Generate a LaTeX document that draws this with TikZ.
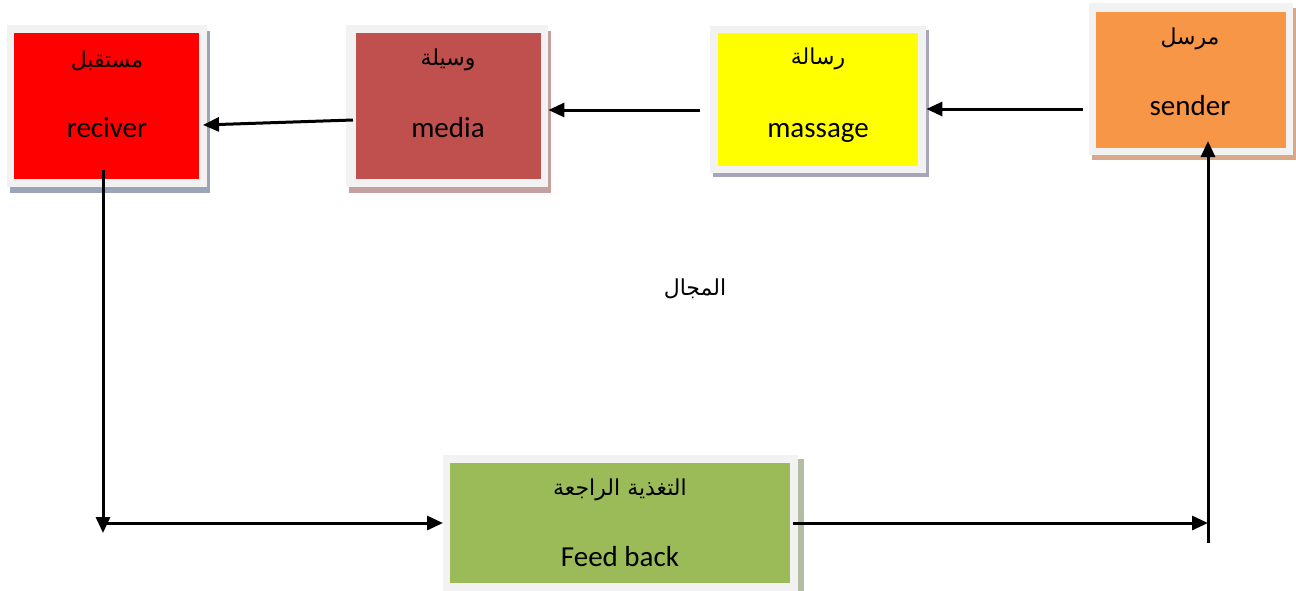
\documentclass[tikz,border=0pt]{standalone}
\usepackage{fontspec}
\setmainfont{Carlito}
\newfontfamily\arabicfont[Script=Arabic]{DejaVu Sans}
\TeXXeTstate=1
\usetikzlibrary{arrows.meta}
\definecolor{framegray}{HTML}{F2F2F2}
\definecolor{cRed}{HTML}{FF0000}
\definecolor{cMedia}{HTML}{C0504D}
\definecolor{cYel}{HTML}{FFFF00}
\definecolor{cOra}{HTML}{F79646}
\definecolor{cGrn}{HTML}{9BBB59}
\definecolor{shRed}{HTML}{9AA5B8}
\definecolor{shMed}{HTML}{C4A0A0}
\definecolor{shYel}{HTML}{A8A4BC}
\definecolor{shOra}{HTML}{D8A888}
\definecolor{shGrn}{HTML}{B4BCA4}
\tikzset{
  blk/.style={draw=none, inner sep=0pt, anchor=north west},
  ar/.style={font=\arabicfont\fontsize{22}{25}\selectfont, inner sep=0pt, anchor=base},
  en/.style={font=\fontsize{29}{32}\selectfont, inner sep=0pt, anchor=base},
  arr/.style={line width=3pt, -{Triangle[length=16pt,width=14pt]}}
}
\begin{document}
\begin{tikzpicture}[x=1pt,y=-1pt]
\useasboundingbox (0,0) rectangle (1296,590);
% receiver
\node[blk, fill=shRed, minimum width=200pt, minimum height=162pt] (rcvS) at (10,31) {};
\node[blk, fill=framegray, minimum width=200pt, minimum height=162pt] (rcvF) at (7,25) {};
\node[blk, fill=cRed, minimum width=185pt, minimum height=146pt] (rcv) at (14,33) {};
\node[ar] (rcvA) at (107,67) {\beginR مستقبل\endR};
\node[en] (rcvE) at (107,137) {reciver};
% media
\node[blk, fill=shMed, minimum width=202pt, minimum height=162pt] (medS) at (349,31) {};
\node[blk, fill=framegray, minimum width=202pt, minimum height=162pt] (medF) at (346,25) {};
\node[blk, fill=cMedia, minimum width=185pt, minimum height=146pt] (med) at (356,33) {};
\node[ar] (medA) at (448,65) {\beginR وسيلة\endR};
\node[en] (medE) at (448,137) {media};
% massage
\node[blk, fill=shYel, minimum width=216pt, minimum height=147pt] (msgS) at (713,30) {};
\node[blk, fill=framegray, minimum width=216pt, minimum height=147pt] (msgF) at (710,26) {};
\node[blk, fill=cYel, minimum width=200pt, minimum height=133pt] (msg) at (718,33) {};
\node[ar] (msgA) at (818,64) {\beginR رسالة\endR};
\node[en] (msgE) at (818,137) {massage};
% sender
\node[blk, fill=shOra, minimum width=204pt, minimum height=152pt] (sndS) at (1092,8) {};
\node[blk, fill=framegray, minimum width=204pt, minimum height=152pt] (sndF) at (1089,3) {};
\node[blk, fill=cOra, minimum width=190pt, minimum height=136pt] (snd) at (1096,12) {};
\node[ar] (sndA) at (1190,44) {\beginR مرسل\endR};
\node[en] (sndE) at (1190,115) {sender};
% feedback
\node[blk, fill=shGrn, minimum width=358pt, minimum height=140pt] (fbS) at (446,459) {};
\node[blk, fill=framegray, minimum width=355pt, minimum height=140pt] (fbF) at (443,455) {};
\node[blk, fill=cGrn, minimum width=340pt, minimum height=120pt] (fb) at (450,463) {};
\node[ar] (fbA) at (620,495) {\beginR التغذية الراجعة\endR};
\node[en] (fbE) at (620,566) {Feed back};
% field label
\node[ar] (fld) at (695,295) {\beginR المجال\endR};
% connectors
\coordinate (c1) at (1083,109);
\coordinate (c2) at (700,110);
\coordinate (c3) at (353,120);
\coordinate (c4) at (203,125);
\coordinate (c5) at (103,170);
\coordinate (c6) at (103,533);
\coordinate (c7) at (103,523);
\coordinate (c8) at (793,523);
\coordinate (c9) at (1208,543);
\coordinate (c10) at (1208,141);
\draw[arr] (c1) -- (msgF.east |- c1);
\draw[arr] (c2) -- (medF.east |- c2);
\draw[arr] (c3) -- (c4);
\draw[arr] (c5) -- (c6);
\draw[arr] (c7) -- (fbF.west |- c7);
\draw[arr] (c8) -- (c9 |- c8);
\draw[arr] (c9) -- (c10);
\end{tikzpicture}
\end{document}
